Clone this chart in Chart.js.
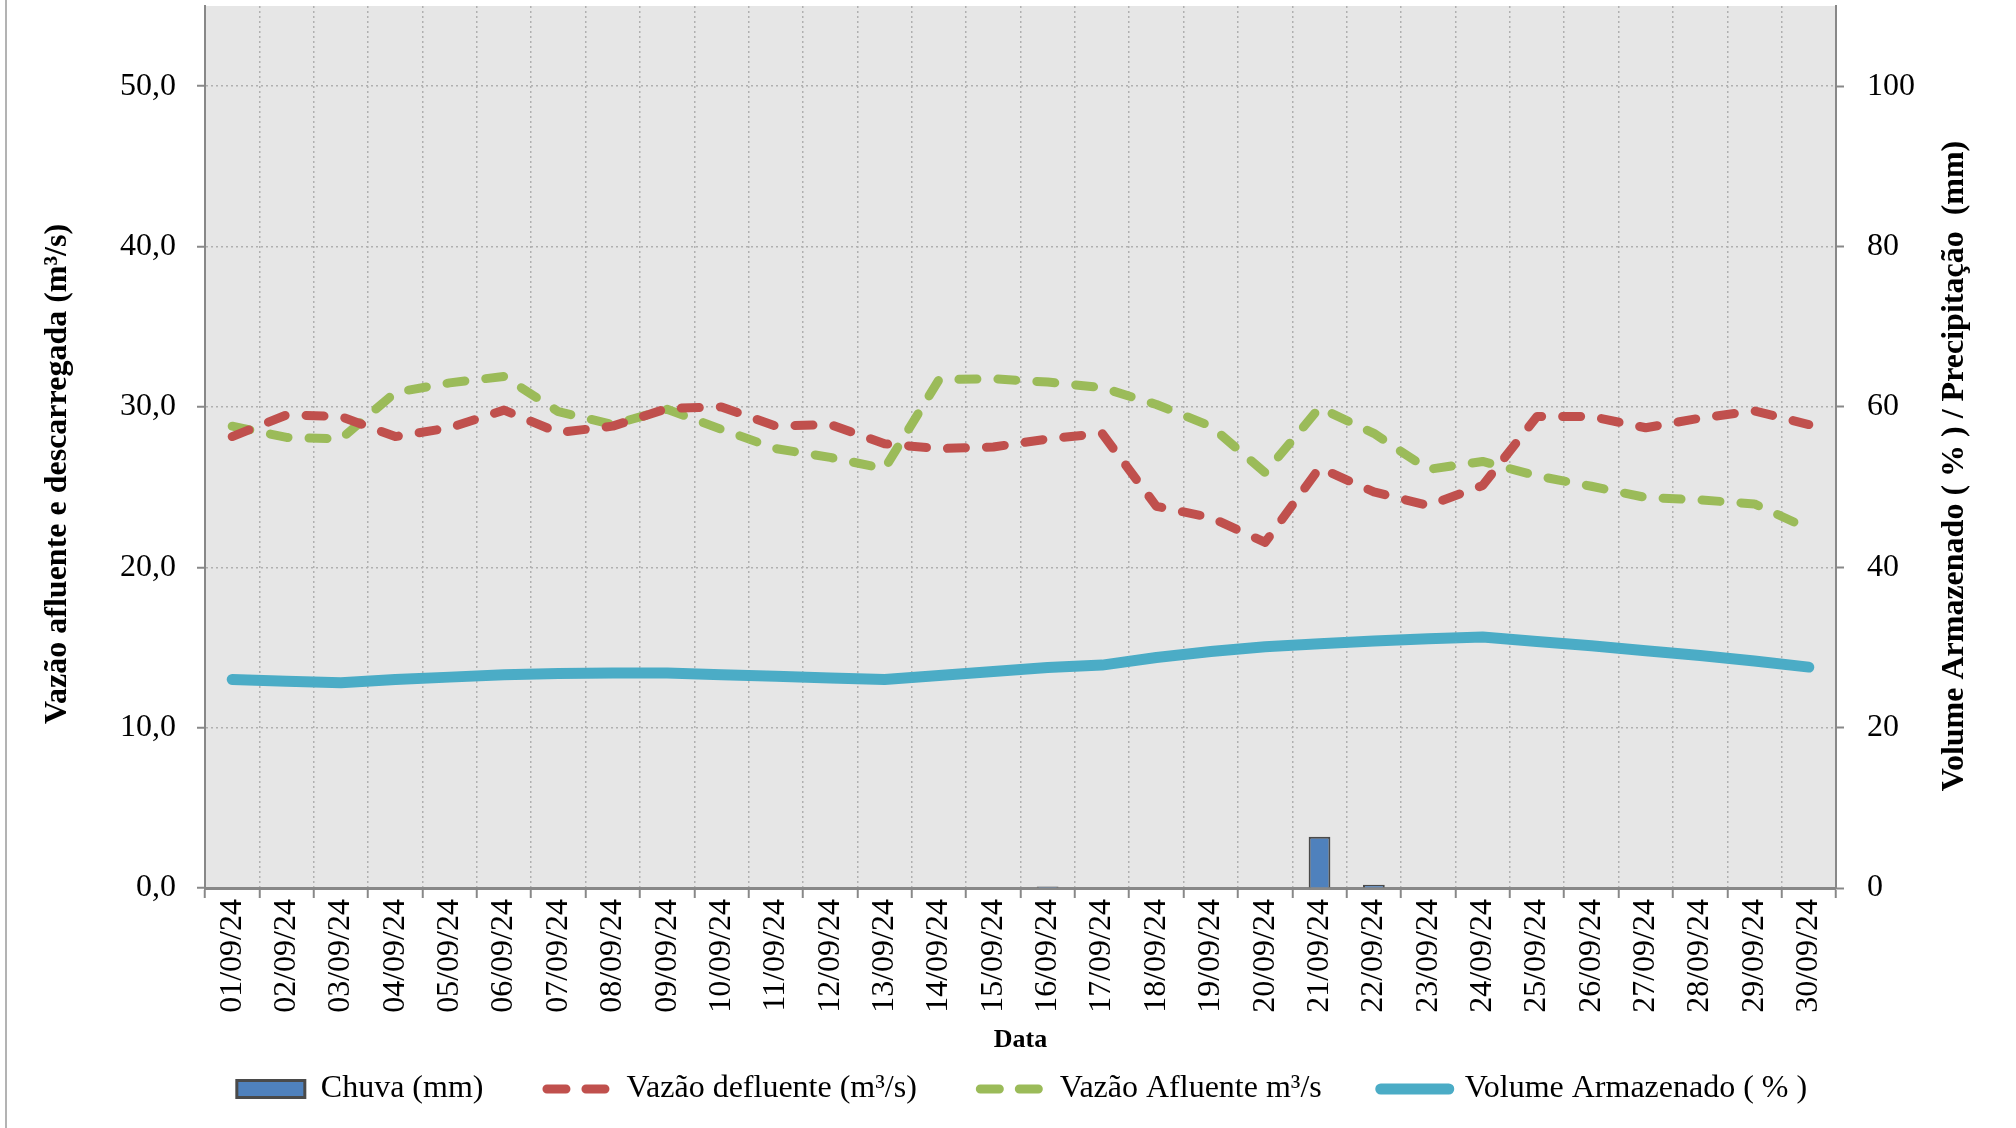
<!DOCTYPE html>
<html>
<head>
<meta charset="utf-8">
<script src="https://cdn.jsdelivr.net/npm/chart.js@4.4.1/dist/chart.umd.min.js"></script>
<style>
  body { margin: 0; background: #fff; }
</style>
</head>
<body>
<canvas id="grafico" width="2016" height="1128"></canvas>
<script>
// dados de setembro/2024
const dias = ['01/09/24', '02/09/24', '03/09/24', '04/09/24', '05/09/24', '06/09/24', '07/09/24', '08/09/24', '09/09/24', '10/09/24',
    '11/09/24', '12/09/24', '13/09/24', '14/09/24', '15/09/24', '16/09/24', '17/09/24', '18/09/24', '19/09/24', '20/09/24',
    '21/09/24', '22/09/24', '23/09/24', '24/09/24', '25/09/24', '26/09/24', '27/09/24', '28/09/24', '29/09/24', '30/09/24'];

const chuva = [0, 0, 0, 0, 0, 0, 0, 0, 0, 0, 0, 0, 0, 0, 0, 0.2, 0, 0, 0, 0, 6.4, 0.4, 0, 0, 0, 0, 0, 0, 0, 0];

const vazaoDefluente = [28.15, 29.5, 29.4, 28.15, 28.7, 29.8, 28.4, 28.8, 29.9, 30.0,
    28.8, 28.9, 27.7, 27.4, 27.5, 28.0, 28.35, 23.8, 23.1, 21.55,
    26.2, 24.7, 23.85, 25.1, 29.4, 29.4, 28.7, 29.3, 29.75, 28.9];

const vazaoAfluente = [28.8, 28.1, 28.0, 30.9, 31.5, 31.9, 29.7, 28.9, 29.85, 28.6,
    27.4, 26.85, 26.15, 31.7, 31.75, 31.55, 31.2, 30.15, 28.8, 25.9,
    29.95, 28.35, 26.1, 26.6, 25.7, 25.05, 24.35, 24.2, 23.95, 22.4];

const volume = [26.0, 25.8, 25.6, 26.0, 26.3, 26.6, 26.75, 26.8, 26.8, 26.6,
    26.4, 26.2, 26.0, 26.5, 27.0, 27.5, 27.8, 28.75, 29.5, 30.1,
    30.45, 30.8, 31.1, 31.3, 30.75, 30.2, 29.6, 29.0, 28.3, 27.55];

const tituloEsq = 'Vazão afluente e descarregada (m³/s)';
const tituloDir = 'Volume Armazenado ( % ) / Precipitação  (mm)';

const serif = "'Liberation Serif', 'Times New Roman', serif";
Chart.defaults.font.family = serif;
Chart.defaults.color = '#000';

// fundo cinza da area do grafico + titulos verticais
const extras = {
    id: 'extras',
    beforeDraw(chart) {
        const {ctx, chartArea: a} = chart;
        ctx.save();
        ctx.fillStyle = '#e6e6e6';
        ctx.fillRect(a.left, a.top, a.right - a.left, a.bottom - a.top);
        ctx.strokeStyle = '#9a9a9a';
        ctx.lineWidth = 1.5;
        ctx.beginPath();
        ctx.moveTo(6, 0);
        ctx.lineTo(6, chart.height);
        ctx.stroke();
        ctx.restore();
    },
    afterDraw(chart) {
        const ctx = chart.ctx;
        ctx.save();
        ctx.font = 'bold 32px ' + serif;
        ctx.fillStyle = '#000';
        ctx.textAlign = 'center';
        ctx.textBaseline = 'middle';

        ctx.save();
        ctx.translate(58, 474);
        ctx.rotate(-Math.PI / 2);
        ctx.fillText(tituloEsq, 0, 0);
        ctx.restore();

        ctx.translate(1955, 466);
        ctx.rotate(-Math.PI / 2);
        ctx.fillText(tituloDir, 0, 0);
        ctx.restore();
    }
};

const eixoCor = '#888888';
const gradeCor = '#b0b0b0';

function semPadding(s) {
    s.paddingTop = 0;
    s.paddingBottom = 0;
    s.paddingLeft = 0;
    s.paddingRight = 0;
}

new Chart(document.getElementById('grafico'), {
    type: 'bar',
    data: {
        labels: dias,
        datasets: [
            {
                type: 'bar',
                label: 'Chuva (mm)',
                data: chuva,
                yAxisID: 'y2',
                backgroundColor: '#4f81bd',
                borderColor: '#4a4a4a',
                borderWidth: 2,
                barPercentage: 0.4,
                categoryPercentage: 1
            },
            {
                type: 'line',
                label: 'Vazão defluente (m³/s)',
                data: vazaoDefluente,
                yAxisID: 'y',
                borderColor: '#c0504d',
                backgroundColor: '#c0504d',
                borderWidth: 9,
                borderDash: [18, 21],
                borderCapStyle: 'round',
                borderJoinStyle: 'round',
                pointRadius: 0,
                tension: 0
            },
            {
                type: 'line',
                label: 'Vazão Afluente m³/s',
                data: vazaoAfluente,
                yAxisID: 'y',
                borderColor: '#9bbb59',
                backgroundColor: '#9bbb59',
                borderWidth: 9,
                borderDash: [18, 21],
                borderCapStyle: 'round',
                borderJoinStyle: 'round',
                pointRadius: 0,
                tension: 0
            },
            {
                type: 'line',
                label: 'Volume Armazenado ( % )',
                data: volume,
                yAxisID: 'y2',
                borderColor: '#4bacc6',
                backgroundColor: '#4bacc6',
                borderWidth: 11,
                borderCapStyle: 'round',
                borderJoinStyle: 'round',
                pointRadius: 0,
                tension: 0
            }
        ]
    },
    options: {
        responsive: false,
        animation: false,
        layout: { padding: { left: 28, right: 0, top: 6, bottom: 13 } },
        plugins: {
            tooltip: { enabled: false },
            legend: {
                position: 'bottom',
                labels: {
                    usePointStyle: true,
                    pointStyleWidth: 68,
                    boxWidth: 68,
                    boxHeight: 17,
                    padding: 59,
                    color: '#000',
                    font: { size: 32 },
                    generateLabels(chart) {
                        const items = Chart.defaults.plugins.legend.labels.generateLabels(chart);
                        items.forEach(it => {
                            const ds = chart.data.datasets[it.datasetIndex];
                            if (ds.type === 'bar') {
                                it.pointStyle = 'rect';
                                it.lineWidth = 3;
                            } else {
                                it.pointStyle = 'line';
                                it.lineWidth = ds.borderWidth;
                                it.lineCap = 'round';
                                if (ds.borderDash) {
                                    it.lineDash = [19, 20];
                                    it.lineDashOffset = 34.5;
                                }
                            }
                        });
                        return items;
                    }
                }
            }
        },
        scales: {
            x: {
                offset: true,
                grid: {
                    offset: true,
                    color: gradeCor,
                    lineWidth: 1.5,
                    tickColor: eixoCor,
                    tickWidth: 2,
                    tickLength: 10,
                    tickBorderDash: []
                },
                border: { color: eixoCor, width: 3, dash: [2, 3] },
                ticks: {
                    autoSkip: false,
                    minRotation: 90,
                    maxRotation: 90,
                    padding: 1,
                    font: { size: 32 }
                },
                title: {
                    display: true,
                    text: 'Data',
                    font: { size: 26, weight: 'bold' },
                    padding: { top: 0, bottom: -42 }
                },
                afterFit(s) { semPadding(s); s.height = 126; }
            },
            y: {
                position: 'left',
                min: 0,
                max: 55,
                grid: {
                    color: gradeCor,
                    lineWidth: 1.5,
                    tickColor: eixoCor,
                    tickWidth: 2,
                    tickLength: 8,
                    tickBorderDash: []
                },
                border: { color: eixoCor, width: 2, dash: [2, 3] },
                ticks: {
                    stepSize: 10,
                    includeBounds: false,
                    padding: 21,
                    font: { size: 32 },
                    callback: v => v.toFixed(1).replace('.', ',')
                },
                afterFit(s) { semPadding(s); s.width = 177; }
            },
            y2: {
                position: 'right',
                min: 0,
                max: 110,
                grid: {
                    drawOnChartArea: false,
                    tickColor: eixoCor,
                    tickWidth: 2,
                    tickLength: 8
                },
                border: { color: eixoCor, width: 2 },
                ticks: {
                    stepSize: 20,
                    includeBounds: false,
                    padding: 23,
                    font: { size: 32 }
                },
                afterFit(s) { semPadding(s); s.width = 180; }
            }
        }
    },
    plugins: [extras]
});
</script>
</body>
</html>
